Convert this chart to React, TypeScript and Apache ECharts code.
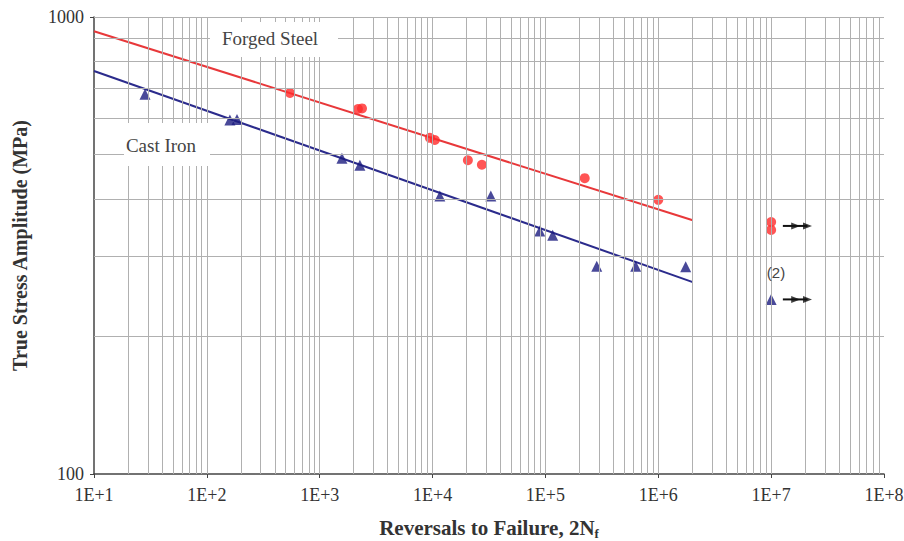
import React, { useEffect, useRef } from "react";
import * as echarts from "echarts";

const steelReversals = [545, 2180, 2370, 9460, 10470, 20550, 27350, 223000, 1000000];
const steelStress = [682, 629, 631, 544, 538, 486, 475, 444, 398];
const steelRunoutReversals = [10000000, 10000000];
const steelRunoutStress = [356, 342];

const ironReversals = [28.3, 160, 185, 1574, 2270, 11600, 32800, 89100, 116000, 285000, 631000, 1750000];
const ironStress = [678, 595, 597, 491, 474, 406, 406, 340, 333, 285, 285, 284];
const ironRunoutReversals = [10000000];
const ironRunoutStress = [241];

const steelFitReversals = [10, 2020000];
const steelFitStress = [931, 359];
const ironFitReversals = [10, 2020000];
const ironFitStress = [762, 263];

const arrowStartReversals = 12700000;
const arrowHeadReversals = [16500000, 21000000];
const arrowStress = [349, 241];

const decades = [10, 100, 1000, 10000, 100000, 1000000, 10000000];
const multipliers = [2, 3, 4, 5, 6, 7, 8, 9];
const yGridValues = [200, 300, 400, 500, 600, 700, 800, 900];

const zip = (a: number[], b: number[]) => a.map((v, i) => [v, b[i]]);

export default function App() {
  const ref = useRef<HTMLDivElement>(null);
  useEffect(() => {
    if (!ref.current) return;
    const chart = echarts.init(ref.current, null, { renderer: "svg" });
    const serif = "'Liberation Serif', 'DejaVu Serif', serif";
    const xGrid: any[] = [];
    decades.forEach((d) => multipliers.forEach((m) => xGrid.push({ xAxis: d * m })));
    decades.slice(1).forEach((d) => xGrid.push({ xAxis: d }));
    const yGrid = yGridValues.map((v) => ({ yAxis: v }));
    const arrowSeries: any[] = [];
    arrowStress.forEach((s) => {
      arrowSeries.push({
        type: "line",
        data: [[arrowStartReversals, s], [arrowHeadReversals[1], s]],
        symbol: "none",
        lineStyle: { color: "#111", width: 2 },
        z: 5,
      });
      arrowSeries.push({
        type: "scatter",
        data: arrowHeadReversals.map((x) => [x, s]),
        symbol: "triangle",
        symbolSize: [7, 9],
        symbolRotate: -90,
        itemStyle: { color: "#111" },
        z: 5,
      });
    });
    chart.setOption({
      animation: false,
      backgroundColor: "#fff",
      grid: { left: 94, right: 20, top: 17, bottom: 67, outerBoundsMode: "none", containLabel: false },
      xAxis: {
        type: "log",
        logBase: 10,
        min: 10,
        max: 100000000,
        axisLine: { lineStyle: { color: "#444", width: 1.5 } },
        axisTick: { show: true, length: 4, lineStyle: { color: "#444" } },
        splitLine: { show: false },
        axisLabel: {
          formatter: (v: number) => "1E+" + Math.round(Math.log10(v)),
          fontFamily: serif,
          fontSize: 18,
          color: "#333",
          margin: 12,
        },
        name: "{a|Reversals to Failure, 2N}{s|f}",
        nameLocation: "middle",
        nameGap: 41,
        nameTextStyle: {
          rich: {
            a: { fontFamily: serif, fontWeight: "bold", fontSize: 21, color: "#333" },
            s: { fontFamily: serif, fontWeight: "bold", fontSize: 13, color: "#333", padding: [12, 0, 0, 0] },
          },
        },
      },
      yAxis: {
        type: "log",
        logBase: 10,
        min: 100,
        max: 1000,
        axisLine: { show: true, lineStyle: { color: "#444", width: 1.5 } },
        axisTick: { show: true, length: 4, lineStyle: { color: "#444" } },
        splitLine: { show: false },
        axisLabel: { fontFamily: serif, fontSize: 18, color: "#333", margin: 10, formatter: (v: number) => String(Math.round(v)) },
        name: "True Stress Amplitude (MPa)",
        nameLocation: "middle",
        nameGap: 64,
        nameTextStyle: { fontFamily: serif, fontWeight: "bold", fontSize: 20, color: "#333" },
      },
      series: [
        {
          type: "line",
          data: [],
          z: 1,
          markLine: {
            silent: true,
            symbol: "none",
            label: { show: false },
            lineStyle: { color: "#b0b0b0", width: 1, type: "solid" },
            data: [...xGrid, ...yGrid, { yAxis: 1000 }],
          },
        },
        {
          type: "line",
          data: zip(steelFitReversals, steelFitStress),
          symbol: "none",
          lineStyle: { color: "#e8383a", width: 2 },
          z: 3,
        },
        {
          type: "line",
          data: zip(ironFitReversals, ironFitStress),
          symbol: "none",
          lineStyle: { color: "#2b2b8c", width: 2 },
          z: 3,
        },
        {
          type: "scatter",
          data: [...zip(steelReversals, steelStress), ...zip(steelRunoutReversals, steelRunoutStress)],
          symbol: "circle",
          symbolSize: 10,
          itemStyle: { color: "#ff2a2a" },
          z: 4,
        },
        {
          type: "scatter",
          data: [...zip(ironReversals, ironStress), ...zip(ironRunoutReversals, ironRunoutStress)],
          symbol: "triangle",
          symbolSize: 11,
          itemStyle: { color: "#1c1c80" },
          z: 4,
        },
        ...arrowSeries,
      ],
      graphic: [
        { type: "rect", shape: { x: 210, y: 22, width: 128, height: 35 }, style: { fill: "#fff" }, z: 50 },
        {
          type: "text",
          x: 270,
          y: 38,
          style: { text: "Forged Steel", font: "19px 'Liberation Serif', serif", fill: "#444", align: "center", verticalAlign: "middle" },
          z: 51,
        },
        { type: "rect", shape: { x: 124, y: 123, width: 86, height: 43 }, style: { fill: "#fff" }, z: 50 },
        {
          type: "text",
          x: 161,
          y: 145,
          style: { text: "Cast Iron", font: "19px 'Liberation Serif', serif", fill: "#444", align: "center", verticalAlign: "middle" },
          z: 51,
        },
        {
          type: "text",
          x: 776,
          y: 272,
          style: { text: "(2)", font: "15px 'Liberation Sans', sans-serif", fill: "#444", align: "center", verticalAlign: "middle" },
          z: 51,
        },
      ],
    });
    return () => chart.dispose();
  }, []);
  return <div ref={ref} style={{ width: 904, height: 541, position: "absolute", left: 0, top: 0 }} />;
}
